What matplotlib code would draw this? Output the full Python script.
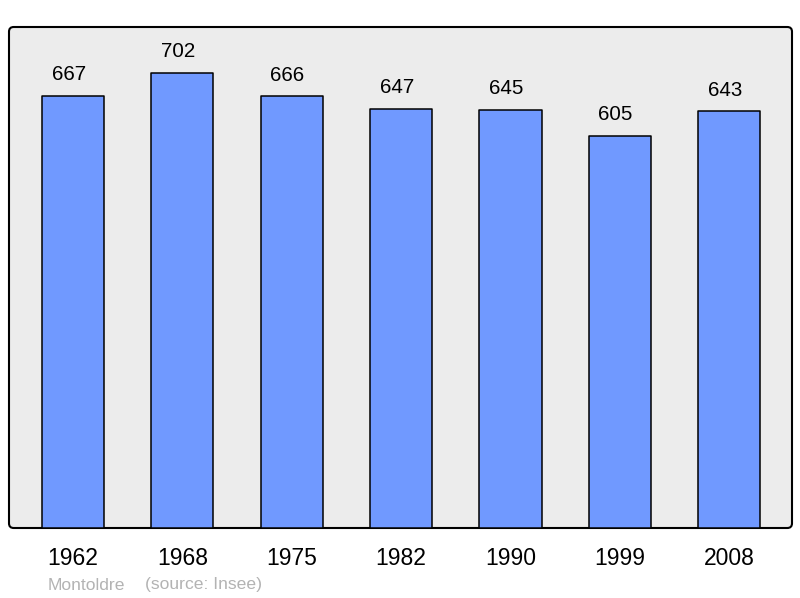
import matplotlib.pyplot as plt
from matplotlib.patches import FancyBboxPatch

plt.rcParams["font.family"] = ["Liberation Sans", "DejaVu Sans"]

years = ["1962", "1968", "1975", "1982", "1990", "1999", "2008"]
population = [667, 702, 666, 647, 645, 605, 643]
commune = "Montoldre"
source = "(source: Insee)"

fig = plt.figure(figsize=(8, 5.98), dpi=100)
ax = fig.add_axes([9 / 800, 70 / 598, 783 / 800, 501 / 598])
ax.set_facecolor("none")

# rounded grey frame behind the bars
frame = FancyBboxPatch((0, 0), 1, 1, boxstyle="round,pad=0,rounding_size=0.006",
                       mutation_aspect=783 / 501, transform=ax.transAxes,
                       facecolor="#ececec", edgecolor="black", linewidth=1.5,
                       zorder=0, clip_on=False)
ax.add_patch(frame)

x = range(len(years))
ax.bar(x, population, width=0.57, color="#7099ff", edgecolor="black",
       linewidth=1.1, joinstyle="round", zorder=2)

for i, v in enumerate(population):
    ax.annotate(str(v), (i, v), xytext=(-3, 15.3), textcoords="offset points",
                ha="center", va="center", fontsize=14.8, color="black")

ax.set_xlim(-0.585, len(years) - 1 + 0.575)
ax.set_ylim(0, 773)
for s in ax.spines.values():
    s.set_visible(False)
ax.set_yticks([])
ax.set_xticks(list(x))
ax.set_xticklabels(years, fontsize=16.5)
ax.tick_params(axis="x", length=0, pad=14)

fig.text(48 / 800, 1 - 585 / 598, commune, fontsize=12.6, color="#b3b3b3",
         ha="left", va="center")
fig.text(145 / 800, 1 - 585 / 598, source, fontsize=12.6, color="#b3b3b3",
         ha="left", va="center")

fig.savefig("out.png", dpi=100)
